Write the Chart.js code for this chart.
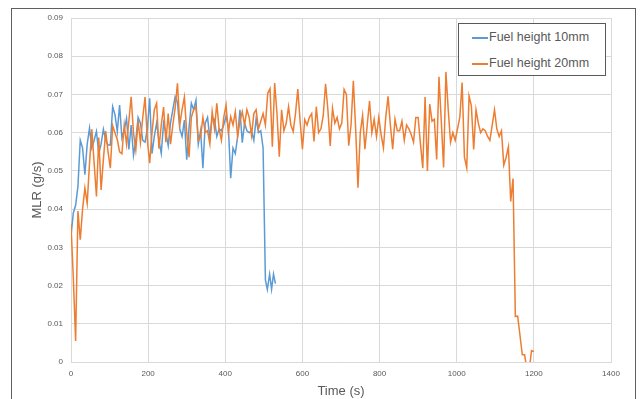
<!DOCTYPE html>
<html>
<head>
<meta charset="utf-8">
<script src="https://cdn.jsdelivr.net/npm/chart.js@4.4.1/dist/chart.umd.min.js"></script>
<style>
  html, body { margin: 0; padding: 0; background: #fff; overflow: hidden; }
  #wrap { position: relative; width: 640px; height: 399px; }
  #frame { position: absolute; left: 11px; top: 8px; width: 625px; height: 420px; border: 1px solid #5f5f5f; box-sizing: border-box; }
  #chart { position: absolute; left: 0; top: 0; }
  #legend {
    position: absolute; left: 458px; top: 23px; width: 148px; height: 53px;
    border: 1px solid #595959; box-sizing: border-box; background: #fff;
    font-family: 'Liberation Sans', Arial, sans-serif; font-size: 12.5px; color: #595959;
  }
  .item { position: absolute; left: 13px; height: 16px; line-height: 16px; white-space: nowrap; }
  .swatch { display: inline-block; width: 16px; height: 2px; vertical-align: middle; margin-right: 1px; }
</style>
</head>
<body>
<div id="wrap">
  <div id="frame"></div>
  <canvas id="chart" width="640" height="399"></canvas>
  <div id="legend">
    <div class="item" style="top:5px"><span class="swatch" style="background:#5b9bd5"></span>Fuel height 10mm</div>
    <div class="item" style="top:31px"><span class="swatch" style="background:#ed7d31"></span>Fuel height 20mm</div>
  </div>
</div>
<script>
document.addEventListener('DOMContentLoaded', () => {
    // --- Data ---
    const seriesNames = ['Fuel height 10mm', 'Fuel height 20mm'];

    const timeBlue = [
        0, 6, 12, 18, 24, 30, 36, 42, 48, 54,
        60, 66, 72, 78, 84, 90, 96, 102, 108, 114,
        120, 126, 132, 138, 144, 150, 156, 162, 168, 174,
        180, 186, 192, 198, 204, 210, 216, 222, 228, 234,
        240, 246, 252, 258, 264, 270, 276, 282, 288, 294,
        300, 306, 312, 318, 324, 330, 336, 342, 348, 354,
        360, 366, 372, 378, 384, 390, 396, 402, 408, 414,
        420, 426, 432, 438, 444, 450, 456, 462, 468, 474,
        480, 486, 492, 498, 504, 509, 515, 520, 525, 530
    ];
    const mlrBlue = [
        0.033, 0.039, 0.041, 0.046, 0.058, 0.056, 0.049, 0.057, 0.0612, 0.056,
        0.058, 0.0603, 0.0545, 0.057, 0.0609, 0.058, 0.0568, 0.0568, 0.0668, 0.0647,
        0.0603, 0.0672, 0.0586, 0.0607, 0.0637, 0.0556, 0.062, 0.0541, 0.058, 0.064,
        0.0625, 0.058, 0.0575, 0.061, 0.069, 0.0545, 0.059, 0.0625, 0.058, 0.0546,
        0.0625, 0.060, 0.0566, 0.0625, 0.066, 0.0694, 0.068, 0.061, 0.059, 0.0633,
        0.0529, 0.0612, 0.0677, 0.066, 0.0685, 0.057, 0.0605, 0.0507, 0.0625, 0.064,
        0.0585, 0.064, 0.0635, 0.059, 0.061, 0.0605, 0.062, 0.0643, 0.0615, 0.0481,
        0.056, 0.0545, 0.059, 0.066, 0.0574, 0.0625, 0.0605, 0.060, 0.0605, 0.058,
        0.0637, 0.060, 0.0605, 0.056, 0.0215, 0.019, 0.023, 0.019, 0.023, 0.0205
    ];

    const timeOrange = [
        0, 6, 12, 18, 24, 30, 36, 42, 48, 54,
        60, 66, 72, 78, 84, 90, 96, 102, 108, 114,
        120, 126, 132, 138, 144, 150, 156, 162, 168, 174,
        180, 186, 192, 198, 204, 210, 216, 222, 228, 234,
        240, 246, 252, 258, 264, 270, 276, 282, 288, 294,
        300, 306, 312, 318, 324, 330, 336, 342, 348, 354,
        360, 366, 372, 378, 384, 390, 396, 402, 408, 414,
        420, 426, 432, 438, 444, 450, 456, 462, 468, 474,
        480, 486, 492, 498, 504, 510, 516, 522, 528, 534,
        540, 546, 552, 558, 564, 570, 576, 582, 588, 594,
        600, 606, 612, 618, 624, 630, 636, 642, 648, 654,
        660, 666, 672, 678, 684, 690, 696, 702, 708, 714,
        720, 726, 732, 738, 744, 750, 756, 762, 768, 774,
        780, 786, 792, 798, 804, 810, 816, 822, 828, 834,
        840, 846, 852, 858, 864, 870, 876, 882, 888, 894,
        900, 906, 912, 918, 924, 930, 936, 942, 948, 954,
        960, 966, 972, 978, 984, 990, 996, 1002, 1008, 1014,
        1020, 1026, 1032, 1038, 1044, 1050, 1056, 1062, 1068, 1074,
        1080, 1086, 1092, 1098, 1104, 1110, 1116, 1122, 1128, 1134,
        1140, 1146, 1152, 1158, 1164, 1170, 1176, 1182, 1188, 1194,
        1200
    ];
    const mlrOrange = [
        0.036, 0.022, 0.0055, 0.0395, 0.032, 0.040, 0.0455, 0.0415, 0.052, 0.0609,
        0.052, 0.0433, 0.0587, 0.045, 0.053, 0.0604, 0.055, 0.0507, 0.0618, 0.060,
        0.0582, 0.055, 0.0545, 0.062, 0.057, 0.063, 0.0694, 0.060, 0.0555, 0.063,
        0.0575, 0.064, 0.0693, 0.058, 0.052, 0.060, 0.066, 0.0677, 0.0558, 0.062,
        0.0667, 0.0575, 0.065, 0.057, 0.062, 0.0665, 0.0729, 0.062, 0.066, 0.0693,
        0.060, 0.0536, 0.064, 0.066, 0.0667, 0.058, 0.059, 0.064, 0.060, 0.0605,
        0.057, 0.0655, 0.061, 0.0677, 0.061, 0.058, 0.064, 0.0672, 0.060, 0.0642,
        0.062, 0.0655, 0.059, 0.063, 0.0655, 0.062, 0.066, 0.064, 0.0593, 0.065,
        0.066, 0.061, 0.063, 0.065, 0.062, 0.0703, 0.0715, 0.0563, 0.073, 0.065,
        0.0537, 0.066, 0.0605, 0.0625, 0.0668, 0.062, 0.0603, 0.065, 0.0714, 0.063,
        0.0557, 0.0634, 0.062, 0.064, 0.065, 0.0577, 0.0668, 0.060, 0.061, 0.0645,
        0.0728, 0.066, 0.0565, 0.0664, 0.0625, 0.064, 0.061, 0.0625, 0.0713, 0.070,
        0.0566, 0.062, 0.0736, 0.061, 0.0456, 0.060, 0.0645, 0.0557, 0.062, 0.0683,
        0.060, 0.0635, 0.059, 0.064, 0.0595, 0.056, 0.064, 0.0695, 0.062, 0.0557,
        0.0635, 0.0605, 0.0605, 0.063, 0.058, 0.062, 0.061, 0.0595, 0.0575, 0.064,
        0.064, 0.057, 0.0507, 0.0693, 0.050, 0.0675, 0.063, 0.0635, 0.053, 0.0746,
        0.063, 0.0509, 0.0759, 0.066, 0.0575, 0.060, 0.058, 0.061, 0.064, 0.0731,
        0.0536, 0.0508, 0.0696, 0.067, 0.0556, 0.066, 0.0625, 0.060, 0.061, 0.0605,
        0.059, 0.058, 0.062, 0.066, 0.061, 0.059, 0.0605, 0.0515, 0.0535, 0.0563,
        0.042, 0.048, 0.0119, 0.012, 0.007, 0.0019, 0.0019, -0.002, -0.002, 0.003,
        0.0027
    ];

    const xTicks = [0, 200, 400, 600, 800, 1000, 1200, 1400];
    const yTicks = [0, 0.01, 0.02, 0.03, 0.04, 0.05, 0.06, 0.07, 0.08, 0.09];

    const toPoints = (times, values) => times.map((t, i) => ({ x: t, y: values[i] }));

    const tickFont = { family: "'Liberation Sans', Arial, sans-serif", size: 8 };
    const titleFont = { family: "'Liberation Sans', Arial, sans-serif", size: 13 };
    const gridColor = '#d9d9d9';
    const textColor = '#595959';

    new Chart(document.getElementById('chart').getContext('2d'), {
        type: 'line',
        data: {
            datasets: [
                {
                    label: seriesNames[0],
                    data: toPoints(timeBlue, mlrBlue),
                    borderColor: '#5b9bd5',
                    borderWidth: 1.5,
                    pointRadius: 0,
                    fill: false,
                    tension: 0,
                    order: 1
                },
                {
                    label: seriesNames[1],
                    data: toPoints(timeOrange, mlrOrange),
                    borderColor: '#ed7d31',
                    borderWidth: 1.5,
                    pointRadius: 0,
                    fill: false,
                    tension: 0,
                    order: 0
                }
            ]
        },
        options: {
            responsive: false,
            animation: false,
            layout: { padding: { left: 30, top: 18, right: 29, bottom: 0 } },
            plugins: {
                legend: { display: false },
                tooltip: { enabled: false }
            },
            scales: {
                x: {
                    type: 'linear',
                    min: xTicks[0],
                    max: xTicks[xTicks.length - 1],
                    afterBuildTicks: s => { s.ticks = xTicks.map(v => ({ value: v })); },
                    afterFit: s => { s.height = 37; },
                    grid: { color: gridColor, drawTicks: false },
                    border: { color: gridColor },
                    ticks: { font: tickFont, color: textColor, padding: 7, maxRotation: 0, callback: v => String(v) },
                    title: { display: true, text: 'Time (s)', font: titleFont, color: textColor, padding: { top: 0, bottom: 0 } }
                },
                y: {
                    min: yTicks[0],
                    max: yTicks[yTicks.length - 1],
                    afterBuildTicks: s => { s.ticks = yTicks.map(v => ({ value: v })); },
                    afterFit: s => { s.width = 41; },
                    grid: { color: gridColor, drawTicks: false },
                    border: { color: gridColor },
                    ticks: {
                        font: tickFont, color: textColor, padding: 8,
                        callback: v => (v === 0 ? '0' : Number(v).toFixed(2))
                    },
                    title: { display: true, text: 'MLR (g/s)', font: titleFont, color: textColor, padding: { top: 0, bottom: 0 } }
                }
            }
        }
    });
});
</script>
</body>
</html>
